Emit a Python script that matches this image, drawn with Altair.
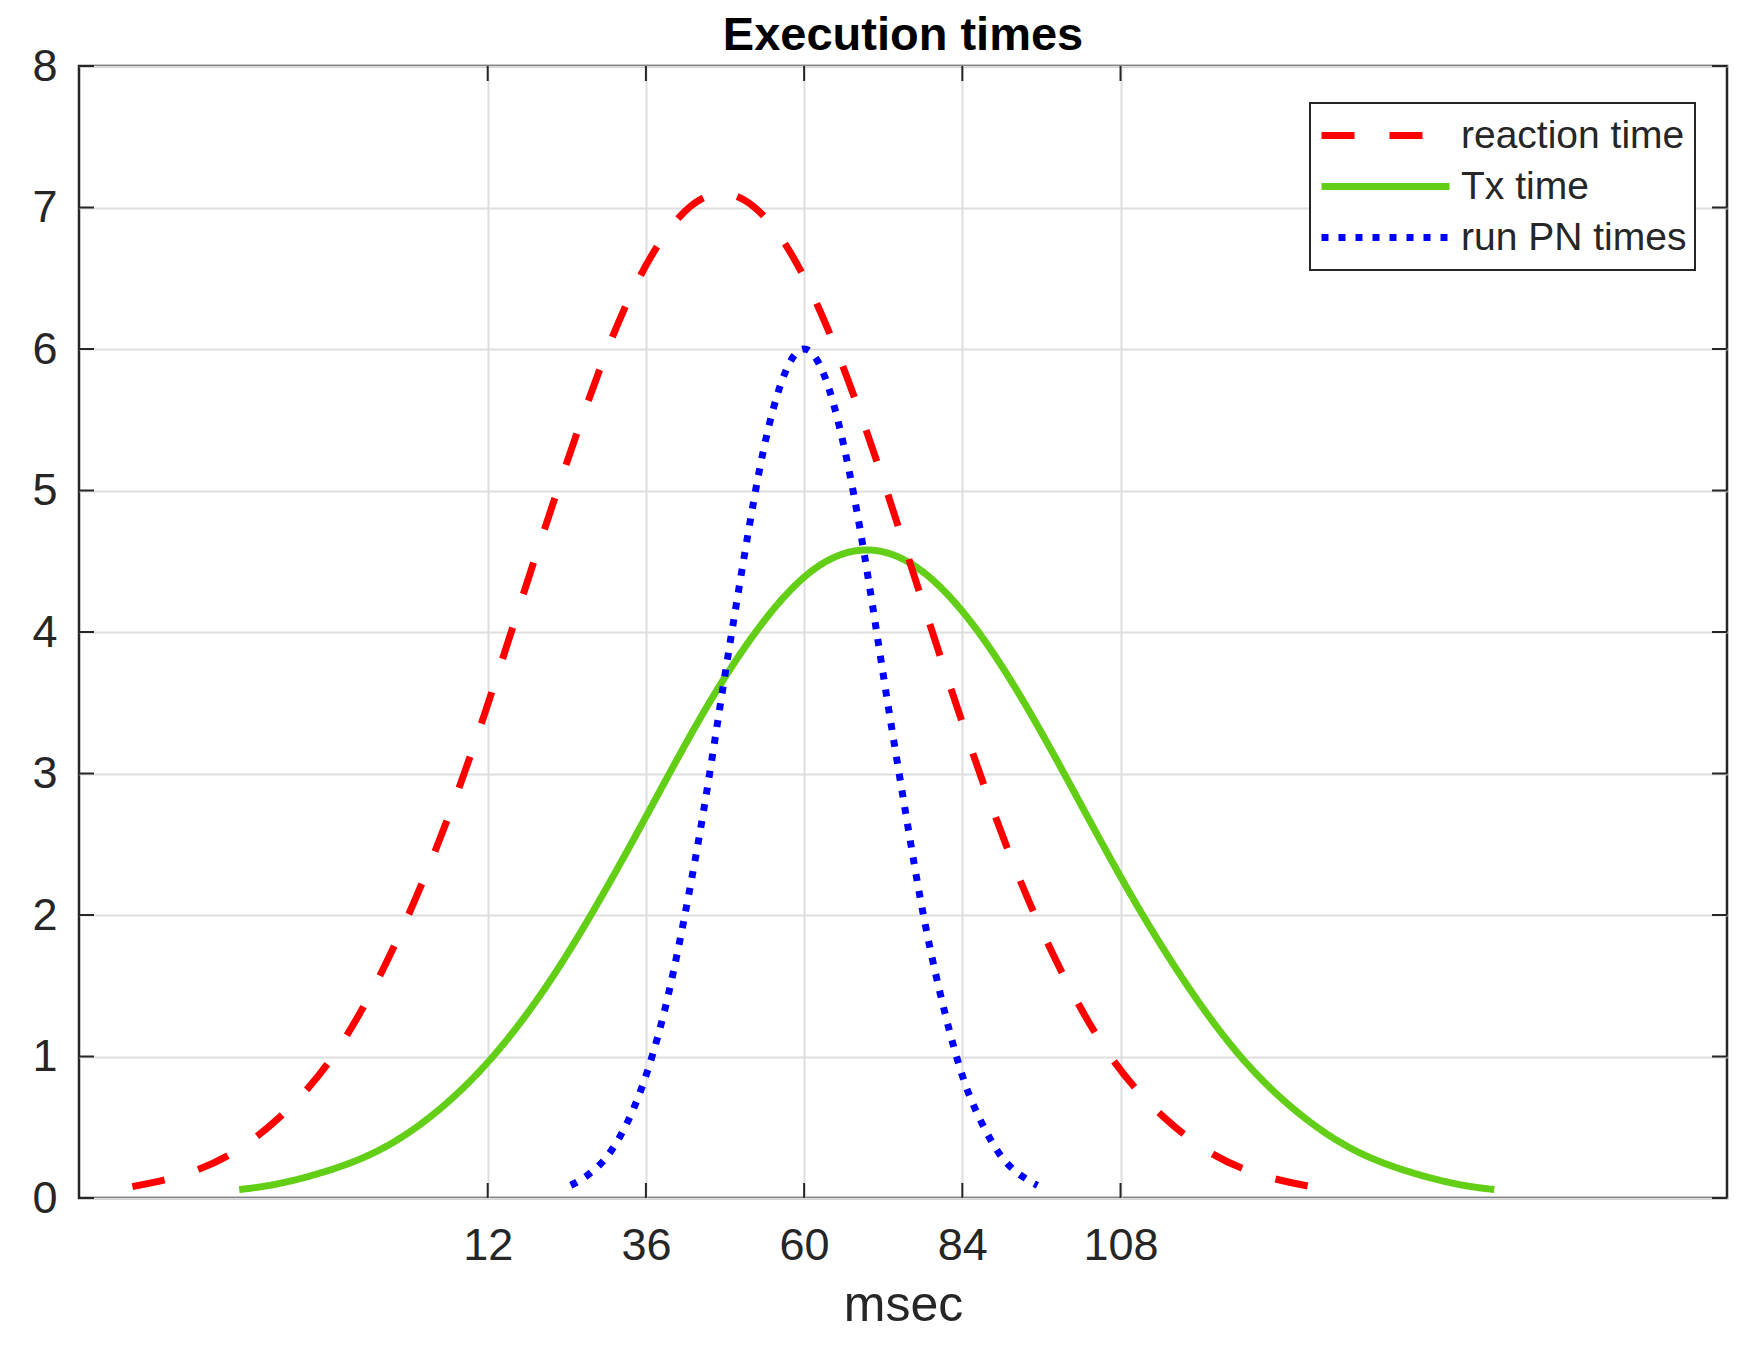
import altair as alt
import pandas as pd

# ---- data ----
series_names = ["reaction time", "Tx time", "run PN times"]
series_colors = ["#FF0000", "#62CE16", "#0000FF"]
series_dash = [[33, 35], [1, 0], [7, 10]]

reaction_x = [-41.9, -34.5, -27.0, -19.6, -12.1, -4.7, 2.8, 10.3, 17.7, 25.2, 32.6, 40.1,
              47.5, 55.0, 62.4, 69.9, 77.3, 84.8, 92.2, 99.7, 107.1, 114.6, 122.0, 129.5, 136.9]
reaction_y = [0.08, 0.16, 0.31, 0.57, 0.96, 1.54, 2.31, 3.25, 4.31, 5.36, 6.27, 6.88,
              7.10, 6.88, 6.27, 5.36, 4.31, 3.25, 2.31, 1.54, 0.96, 0.57, 0.31, 0.16, 0.08]

tx_x = [-25.7, -19.9, -11.8, -3.6, 4.5, 12.6, 20.8, 28.9, 37.0, 45.1, 53.3, 61.4,
        69.5, 77.6, 85.8, 93.9, 102.0, 110.1, 118.3, 126.4, 134.5, 142.6, 150.8, 158.9, 164.7]
tx_y = [0.06, 0.10, 0.20, 0.36, 0.62, 0.99, 1.49, 2.10, 2.78, 3.46, 4.04, 4.44,
        4.58, 4.44, 4.04, 3.46, 2.78, 2.10, 1.49, 0.99, 0.62, 0.36, 0.20, 0.10, 0.06]

pn_x = [24.6, 26.5, 29.5, 32.6, 35.6, 38.7, 41.7, 44.8, 47.8, 50.9, 53.9, 57.0,
        60.0, 63.0, 66.1, 69.2, 72.2, 75.3, 78.3, 81.4, 84.4, 87.5, 90.5, 93.5, 95.4]
pn_y = [0.09, 0.14, 0.26, 0.48, 0.81, 1.30, 1.95, 2.75, 3.64, 4.53, 5.30, 5.82,
        6.00, 5.82, 5.30, 4.53, 3.64, 2.75, 1.95, 1.30, 0.81, 0.48, 0.26, 0.14, 0.09]

x_ticks = [12, 36, 60, 84, 108]
y_ticks = [0, 1, 2, 3, 4, 5, 6, 7, 8]

# ---- tables ----
frames = []
for name, xs, ys in [("reaction time", reaction_x, reaction_y),
                     ("Tx time", tx_x, tx_y),
                     ("run PN times", pn_x, pn_y)]:
    frames.append(pd.DataFrame({"t": xs, "v": ys, "series": name}))
df = pd.concat(frames, ignore_index=True)
xt = pd.DataFrame({"t": x_ticks})
yt = pd.DataFrame({"v": y_ticks})

W, H = 1648, 1132
FONT = "Liberation Sans"
INK = "#262626"
TICK = 15

x_scale = alt.Scale(domain=[-50, 200], nice=False, zero=False)
y_scale = alt.Scale(domain=[0, 8], nice=False, zero=False)

legend = alt.Legend(
    title=None, orient="none", legendX=1231, legendY=37,
    symbolType="stroke", symbolSize=16384, symbolStrokeWidth=7,
    clipHeight=49, rowPadding=2, padding=8,
    labelFont=FONT, labelFontSize=39, labelColor=INK, labelOffset=8, labelLimit=0,
    strokeColor=INK, fillColor="white",
)

color = alt.Color("series:N", scale=alt.Scale(domain=series_names, range=series_colors), legend=legend)
dash = alt.StrokeDash("series:N", scale=alt.Scale(domain=series_names, range=series_dash), legend=legend)

x_axis = alt.Axis(values=x_ticks, format="d", title="msec", grid=True, gridColor="#dedede",
                  gridWidth=2, ticks=False, tickSize=0, domain=False,
                  labelFont=FONT, labelFontSize=45, labelColor=INK, labelPadding=25,
                  titleFont=FONT, titleFontSize=50, titleFontWeight="normal",
                  titleColor=INK, titlePadding=12)
y_axis = alt.Axis(values=y_ticks, format="d", title=None, grid=True, gridColor="#dedede",
                  gridWidth=2, ticks=False, tickSize=0, domain=False,
                  labelFont=FONT, labelFontSize=45, labelColor=INK, labelPadding=22)

X = alt.X("t:Q", scale=x_scale, axis=x_axis)
Y = alt.Y("v:Q", scale=y_scale, axis=y_axis)


def series_layer(name):
    return alt.Chart(df).transform_filter(alt.datum.series == name).mark_line(
        strokeWidth=7, interpolate="natural", strokeCap="butt"
    ).encode(x=X, y=Y, color=color, strokeDash=dash)


rule_style = dict(color=INK, strokeWidth=2)
left_ticks = alt.Chart(yt).mark_rule(**rule_style).encode(
    y=Y, x=alt.value(0), x2=alt.value(TICK))
right_ticks = alt.Chart(yt).mark_rule(**rule_style).encode(
    y=Y, x=alt.value(W - TICK), x2=alt.value(W))
bottom_ticks = alt.Chart(xt).mark_rule(**rule_style).encode(
    x=X, y=alt.value(H), y2=alt.value(H - TICK))
top_ticks = alt.Chart(xt).mark_rule(**rule_style).encode(
    x=X, y=alt.value(0), y2=alt.value(TICK))

chart = alt.layer(
    series_layer("Tx time"),
    series_layer("reaction time"),
    series_layer("run PN times"),
    left_ticks, right_ticks, bottom_ticks, top_ticks,
).properties(
    width=W, height=H,
    title=alt.TitleParams("Execution times", font=FONT, fontSize=47, fontWeight="bold",
                          color="#000000", offset=-16),
    padding={"left": 71, "top": 58, "right": 20, "bottom": 140},
    autosize=alt.AutoSizeParams(type="none"),
    background="white",
).configure_view(
    stroke=INK, strokeWidth=2.5, fill="white"
).configure_legend(
    strokeWidth=2
)

chart.save("out.html", embed_options={"renderer": "svg", "actions": False})
